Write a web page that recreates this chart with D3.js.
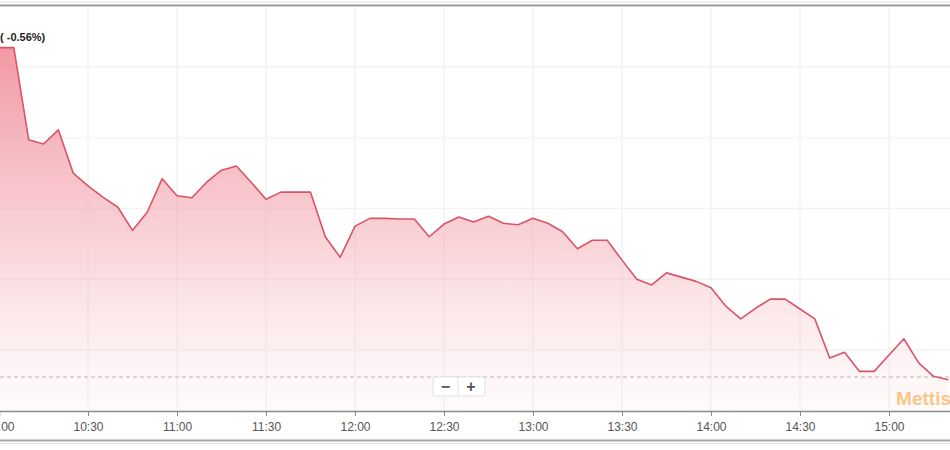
<!DOCTYPE html>
<html>
<head>
<meta charset="utf-8">
<script src="https://cdn.jsdelivr.net/npm/d3@7"></script>
<style>
  body { margin: 0; background: #fff; }
  svg { display: block; font-family: "Liberation Sans", Arial, sans-serif; }
</style>
</head>
<body>
<div id="chart"></div>
<script>
// intraday prices, one point every 5 minutes
var times = [
  "10:00","10:05","10:10","10:15","10:20","10:25","10:30","10:35","10:40","10:45","10:50","10:55",
  "11:00","11:05","11:10","11:15","11:20","11:25","11:30","11:35","11:40","11:45","11:50","11:55",
  "12:00","12:05","12:10","12:15","12:20","12:25","12:30","12:35","12:40","12:45","12:50","12:55",
  "13:00","13:05","13:10","13:15","13:20","13:25","13:30","13:35","13:40","13:45","13:50","13:55",
  "14:00","14:05","14:10","14:15","14:20","14:25","14:30","14:35","14:40","14:45","14:50","14:55",
  "15:00","15:05","15:10","15:15","15:20"
];
var prices = [
  142.7, 142.7, 129.7, 129.1, 131.1, 125.0, 123.2, 121.6, 120.2, 116.9, 119.5, 124.2,
  121.8, 121.5, 123.7, 125.4, 126.0, 123.7, 121.3, 122.3, 122.3, 122.3, 116.0, 113.1,
  117.5, 118.6, 118.6, 118.5, 118.5, 116.0, 117.8, 118.8, 118.1, 118.9, 117.9, 117.7,
  118.6, 117.9, 116.7, 114.3, 115.5, 115.5, 112.7, 110.0, 109.2, 110.9, 110.3, 109.7,
  108.8, 106.2, 104.4, 105.9, 107.2, 107.2, 105.8, 104.4, 98.9, 99.7, 97.0, 97.0,
  99.3, 101.6, 98.2, 96.3, 95.8
];
var prevClose = 96.2;
var gridValues = [100, 110, 120, 130, 140];
var tickTimes = ["10:00","10:30","11:00","11:30","12:00","12:30","13:00","13:30","14:00","14:30","15:00"];
var changeLabel = "( -0.56%)";
var watermark = "Mettis";

var width = 950, height = 450;
var plotTop = 8, plotBottom = 411;

var parseTime = d3.timeParse("%H:%M");
var data = times.map(function(t, i) { return {time: parseTime(t), value: prices[i]}; });
var ticks = tickTimes.map(parseTime);

var x = d3.scaleTime()
    .domain([parseTime("10:00"), parseTime("15:30")])
    .range([-1, 978]);
var y = d3.scaleLinear()
    .domain([91.4, 148.3])
    .range([plotBottom, plotTop]);

var svg = d3.select("#chart").append("svg")
    .attr("width", width)
    .attr("height", height);

// gradient under the line
var grad = svg.append("defs").append("linearGradient")
    .attr("id", "fillGrad")
    .attr("gradientUnits", "userSpaceOnUse")
    .attr("x1", 0).attr("x2", 0)
    .attr("y1", 40).attr("y2", plotBottom);
grad.append("stop").attr("offset", "0%").attr("stop-color", "#f08a96").attr("stop-opacity", 0.9);
grad.append("stop").attr("offset", "55%").attr("stop-color", "#f3a9b2").attr("stop-opacity", 0.5);
grad.append("stop").attr("offset", "100%").attr("stop-color", "#f8d8dc").attr("stop-opacity", 0.12);

// frame lines
svg.append("line").attr("x1", 0).attr("x2", width).attr("y1", 2).attr("y2", 2)
    .attr("stroke", "#dcdcdc").attr("stroke-width", 1);
svg.append("line").attr("x1", 0).attr("x2", width).attr("y1", 5.5).attr("y2", 5.5)
    .attr("stroke", "#9a9a9a").attr("stroke-width", 2);

// grid
svg.append("g").selectAll("line")
    .data(gridValues)
    .enter().append("line")
    .attr("x1", 0).attr("x2", width)
    .attr("y1", function(d) { return y(d); })
    .attr("y2", function(d) { return y(d); })
    .attr("stroke", "#f3f3f3")
    .attr("stroke-width", 1.5);

svg.append("g").selectAll("line")
    .data(ticks)
    .enter().append("line")
    .attr("x1", function(d) { return x(d); })
    .attr("x2", function(d) { return x(d); })
    .attr("y1", plotTop).attr("y2", plotBottom)
    .attr("stroke", "#f3f3f3")
    .attr("stroke-width", 1.5);

// area + line
var area = d3.area()
    .x(function(d) { return x(d.time); })
    .y0(plotBottom)
    .y1(function(d) { return y(d.value); });
var line = d3.line()
    .x(function(d) { return x(d.time); })
    .y(function(d) { return y(d.value); });

svg.append("path")
    .datum(data)
    .attr("fill", "url(#fillGrad)")
    .attr("d", area);

// previous close
svg.append("line")
    .attr("x1", 0).attr("x2", width)
    .attr("y1", y(prevClose)).attr("y2", y(prevClose))
    .attr("stroke", "#b5b5b5")
    .attr("stroke-width", 1)
    .attr("stroke-dasharray", "4,3");

svg.append("path")
    .datum(data)
    .attr("fill", "none")
    .attr("stroke", "#d95468")
    .attr("stroke-width", 1.6)
    .attr("stroke-linejoin", "round")
    .attr("d", line);

// watermark
svg.append("text")
    .attr("x", 951)
    .attr("y", 405)
    .attr("text-anchor", "end")
    .style("font-size", "19px")
    .style("font-weight", "bold")
    .style("fill", "#f5c27c")
    .style("opacity", 0.9)
    .text(watermark);

// zoom buttons
var btns = svg.append("g").attr("transform", "translate(433,377)");
btns.append("rect").attr("x", 0).attr("y", 0).attr("width", 52).attr("height", 19)
    .attr("rx", 2).attr("fill", "#fff").attr("stroke", "#e2e2e2");
btns.append("line").attr("x1", 25).attr("x2", 25).attr("y1", 0).attr("y2", 19)
    .attr("stroke", "#e2e2e2");
btns.append("text").attr("x", 12.5).attr("y", 14.5).attr("text-anchor", "middle")
    .style("font-size", "16px").style("font-weight", "bold").style("fill", "#555").text("\u2212");
btns.append("text").attr("x", 38).attr("y", 14.5).attr("text-anchor", "middle")
    .style("font-size", "16px").style("font-weight", "bold").style("fill", "#555").text("+");

// x axis
var xAxis = svg.append("g")
    .attr("transform", "translate(0," + plotBottom + ")")
    .call(d3.axisBottom(x)
        .tickValues(ticks)
        .tickFormat(d3.timeFormat("%H:%M"))
        .tickSizeOuter(0)
        .tickSize(5)
        .tickPadding(6));
xAxis.select(".domain").attr("stroke", "#8a8a8a").attr("stroke-width", 1.5);
xAxis.selectAll(".tick line").attr("stroke", "#8a8a8a");
xAxis.selectAll(".tick text")
    .style("font-size", "12px")
    .style("fill", "#555")
    .style("font-family", "'Liberation Sans', Arial, sans-serif");

// bottom frame
svg.append("line").attr("x1", 0).attr("x2", width).attr("y1", 440.5).attr("y2", 440.5)
    .attr("stroke", "#a8a8a8").attr("stroke-width", 2);
svg.append("line").attr("x1", 0).attr("x2", width).attr("y1", 443.5).attr("y2", 443.5)
    .attr("stroke", "#e4e4e4").attr("stroke-width", 1);

// change label
svg.append("text")
    .attr("x", 0)
    .attr("y", 41)
    .style("font-size", "11px")
    .style("font-weight", "bold")
    .style("fill", "#222")
    .text(changeLabel);
</script>
</body>
</html>
